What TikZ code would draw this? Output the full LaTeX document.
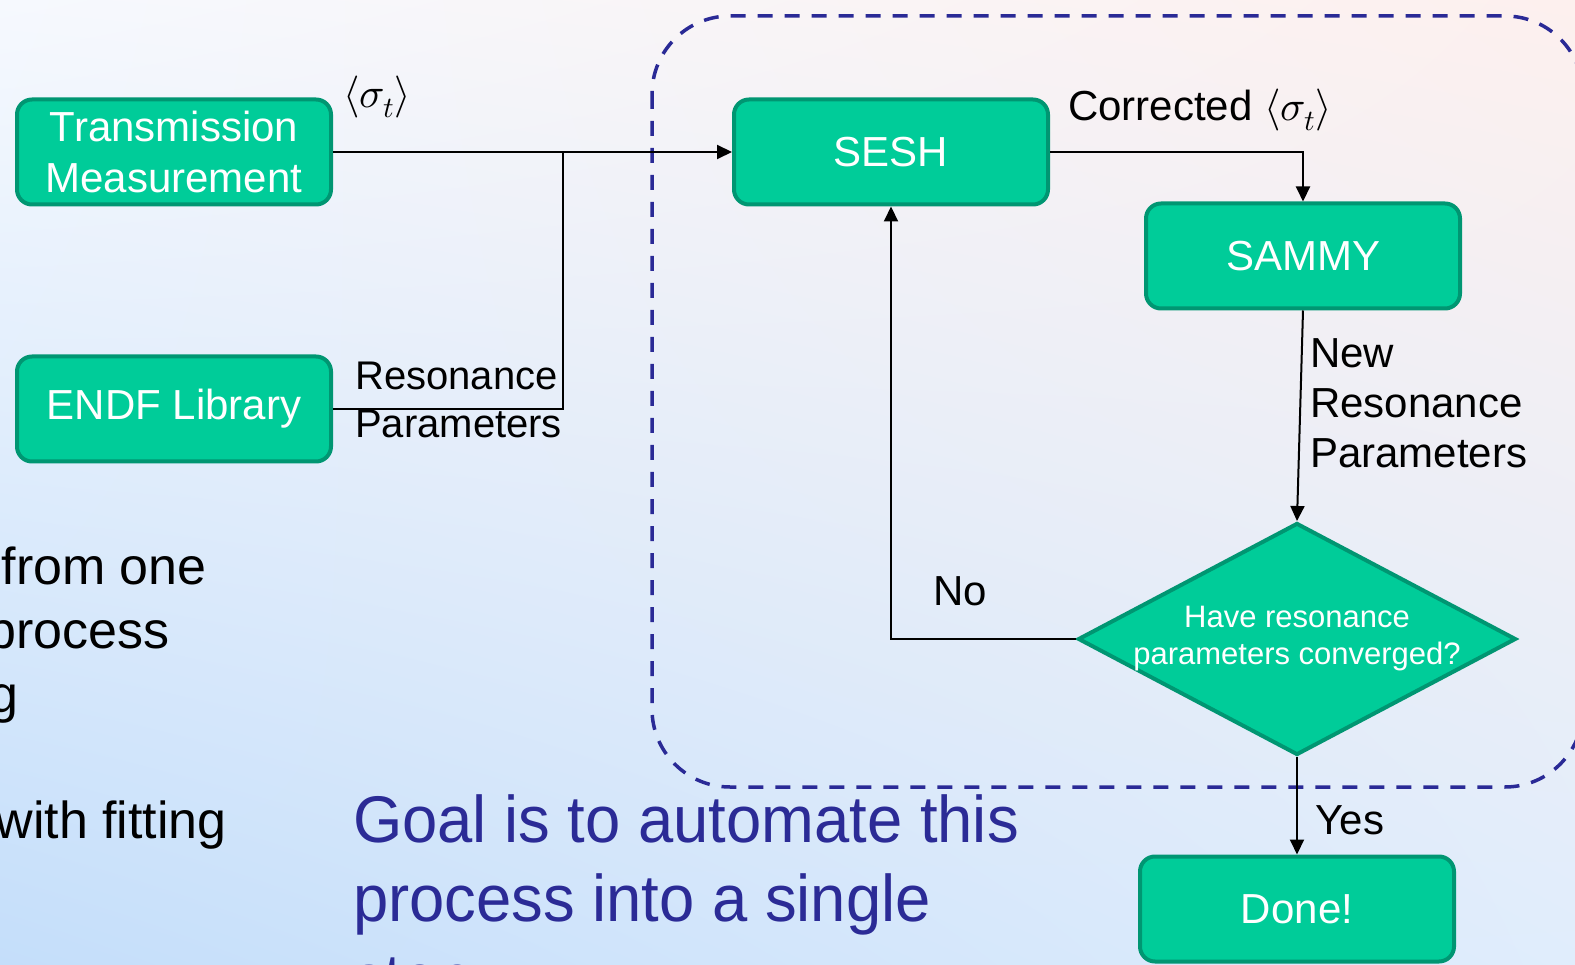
\documentclass[tikz,border=0pt]{standalone}
\usepackage{fontspec}
\usepackage{unicode-math}
\setmainfont{Liberation Sans}
\setmathfont{Latin Modern Math}
\newfontfamily\goalfont[FakeStretch=0.96]{Liberation Sans}
\usetikzlibrary{arrows.meta,shapes.geometric,shadings}
\definecolor{boxfill}{RGB}{0,204,153}
\definecolor{boxline}{RGB}{0,150,114}
\definecolor{dashblue}{RGB}{42,42,150}
\definecolor{goalblue}{RGB}{43,43,150}
\definecolor{bgTL}{RGB}{246,249,254}
\definecolor{bgTR}{RGB}{253,240,238}
\definecolor{bgBL}{RGB}{196,222,250}
\definecolor{bgBR}{RGB}{224,237,252}
\tikzset{
  flowbox/.style={rectangle, rounded corners=15pt, draw=boxline, line width=4pt,
    fill=boxfill, text=white, font=\fontsize{42}{51}\selectfont,
    minimum width=314pt, minimum height=105pt, align=center, inner sep=0pt},
  decision/.style={diamond, draw=boxline, line width=4pt, fill=boxfill,
    minimum width=438pt, minimum height=232pt, inner sep=0pt},
  dectext/.style={text=white, font=\fontsize{31}{37}\selectfont, align=center, inner sep=0pt},
  lbl/.style={font=\fontsize{42}{50}\selectfont, align=left, inner sep=0pt},
  slidetxt/.style={font=\fontsize{52}{63}\selectfont, inner sep=0pt, anchor=base east},
  conn/.style={line width=2pt, draw=black},
  arr/.style={conn, -{Triangle[length=15pt,width=14pt]}},
  groupline/.style={draw=dashblue, line width=3.5pt, dash pattern=on 15pt off 12pt, rounded corners=78pt}
}
\begin{document}
\begin{tikzpicture}[x=1pt,y=-1pt]
\useasboundingbox (0,0) rectangle (1575,965);
\clip (0,0) rectangle (1575,965);
\shade[upper left=bgTL, upper right=bgTR, lower left=bgBL, lower right=bgBR] (0,0) rectangle (1575,965);

% group
\draw[groupline] (652,16) rectangle (1583,787);

% nodes
\node[flowbox] (trans) at (174,152) {Transmission\\Measurement};
\node[flowbox] (endf) at (174,409) {ENDF Library};
\node[flowbox] (sesh) at (891,152) {SESH};
\node[flowbox] (sammy) at (1303,256) {SAMMY};
\node[decision] (dia) at (1297,639) {};
\node[dectext] (diatext) at (1297,639) {Have resonance\\parameters converged?};
\node[flowbox] (done) at (1297,909) {Done!};
\coordinate (join) at (563,152);

% connectors
\draw[arr] (trans.east) -- (sesh.west);
\draw[conn] (endf.east) -| (join);
\draw[arr] (sesh.east) -| (sammy.north);
\draw[arr] (sammy.south) -- (dia.north);
\draw[arr] (dia.west) -| (sesh.south);
\draw[arr] (dia.south) -- (done.north);

% labels
\node[lbl] (lsig) at (377,97) {$\langle\sigma_t\rangle$};
\node[lbl, anchor=west] (lcorr) at (1068,110) {Corrected $\langle\sigma_t\rangle$};
\node[lbl, anchor=west, font=\fontsize{40}{48}\selectfont] (lres) at (355,400) {Resonance\\Parameters};
\node[lbl, anchor=west] (lnew) at (1310,403) {New\\Resonance\\Parameters};
\node[lbl] (lno) at (960,591) {No};
\node[lbl] (lyes) at (1350,820) {Yes};

% slide text fragments
\node[slidetxt] (t1) at (207,584) {from one};
\node[slidetxt] (t2) at (170,648) {process};
\node[slidetxt] (t3) at (19,712) {g};
\node[slidetxt] (t4) at (227,838) {with fitting};

\node[anchor=north west, inner sep=0pt, align=left, text=goalblue,
  font=\goalfont\fontsize{66}{79}\selectfont] (goal) at (353,794)
  {Goal is to automate this\\process into a single\\step};
\end{tikzpicture}
\end{document}
